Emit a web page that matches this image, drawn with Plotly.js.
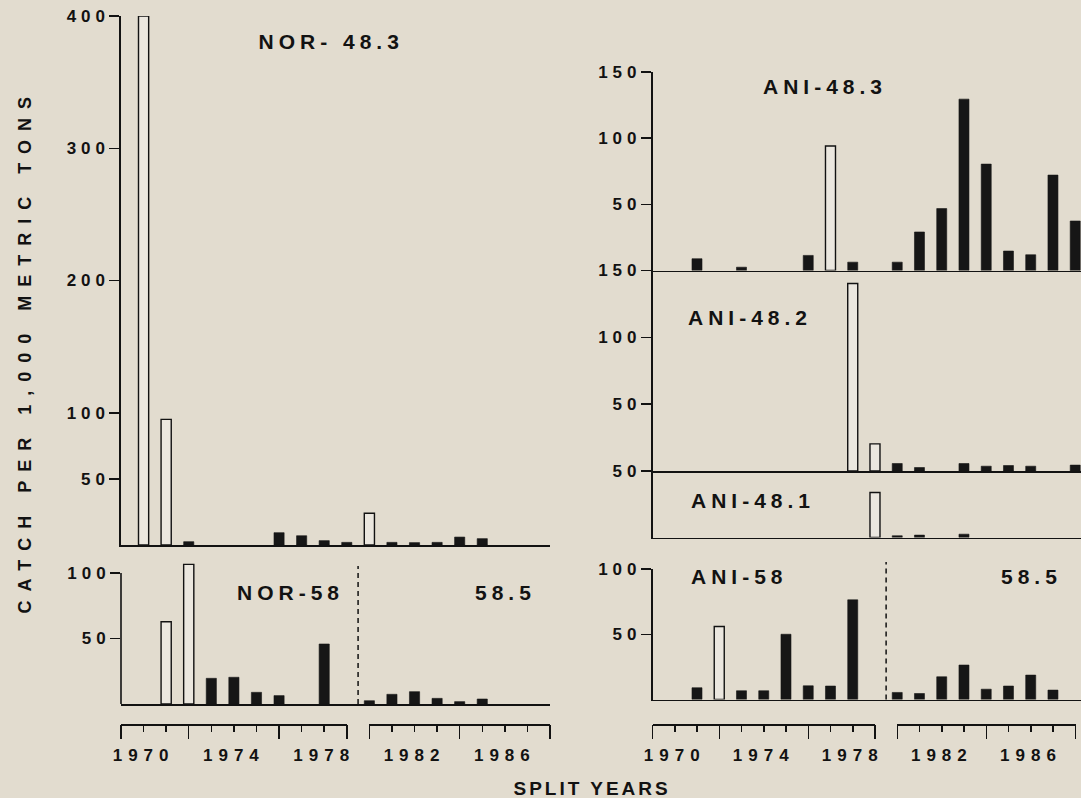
<!DOCTYPE html>
<html><head><meta charset="utf-8">
<script src="https://cdn.plot.ly/plotly-3.0.1.min.js"></script>
<style>
html,body{margin:0;padding:0;background:#e2dccf;}
#chart{width:1081px;height:798px;}
#chart g[class^="y"][class$="tick"] text{letter-spacing:5px;}
#chart g[class^="x"][class$="tick"] text{letter-spacing:6px;}
#chart .annotation-text{letter-spacing:5px;}
#chart g.annotation[data-index="8"] text{letter-spacing:9px;}
#chart g.annotation[data-index="9"] text{letter-spacing:3px;}
</style></head><body><div id="chart"></div>
<script>
// ---------------- data ----------------
const nor483FillYears = [1972, 1976, 1977, 1978, 1979, 1981, 1982, 1983, 1984, 1985];
const nor483FillVals  = [2.5, 9.3, 7, 3.3, 2, 2, 1.8, 2, 6, 4.8];
const nor483OpenYears = [1970, 1971, 1980];
const nor483OpenVals  = [400, 95, 24];

const nor58FillYears = [1973, 1974, 1975, 1976, 1978, 1980, 1981, 1982, 1983, 1984, 1985];
const nor58FillVals  = [19.6, 20.4, 8.9, 6.4, 45.8, 2.5, 7.4, 9.4, 4.3, 1.8, 3.8];
const nor58OpenYears = [1971, 1972];
const nor58OpenVals  = [62.8, 106.6];

const ani483FillYears = [1971, 1973, 1976, 1978, 1980, 1981, 1982, 1983, 1984, 1985, 1986, 1987, 1988];
const ani483FillVals  = [8.9, 2.5, 11.4, 6.3, 6.3, 29.1, 46.8, 129.5, 80.4, 14.7, 11.9, 72.1, 37.4];
const ani483OpenYears = [1977];
const ani483OpenVals  = [94.1];

const ani482FillYears = [1980, 1981, 1983, 1984, 1985, 1986, 1988];
const ani482FillVals  = [5.6, 2.6, 5.6, 3.6, 4.1, 3.6, 4.4];
const ani482OpenYears = [1978, 1979];
const ani482OpenVals  = [140.3, 20.3];

const ani481FillYears = [1980, 1981, 1983];
const ani481FillVals  = [1.3, 1.8, 2.5];
const ani481OpenYears = [1979];
const ani481OpenVals  = [33.8];

const ani58FillYears = [1971, 1973, 1974, 1975, 1976, 1977, 1978, 1980, 1981, 1982, 1983, 1984, 1985, 1986, 1987];
const ani58FillVals  = [9, 6.7, 6.7, 50, 10.5, 10.3, 76.4, 5.4, 4.6, 17.4, 26.4, 7.9, 10.3, 18.7, 7.2];
const ani58OpenYears = [1972];
const ani58OpenVals  = [55.9];

// tick labels
const nor483Ticks = [50, 100, 200, 300, 400];
const nor58Ticks  = [50, 100];
const ani483Ticks = [50, 100, 150];
const ani482Ticks = [50, 100, 150];
const ani481Ticks = [50];
const ani58Ticks  = [50, 100];

const yearsEarly  = [1969, 1970, 1971, 1972, 1973, 1974, 1975, 1976, 1977, 1978, 1979];
const labelsEarly = ['', '1970', '', '', '', '1974', '', '', '', '1978', ''];
const yearsLate   = [1980, 1981, 1982, 1983, 1984, 1985, 1986, 1987, 1988];
const labelsLate  = ['', '', '1982', '', '', '', '1986', '', ''];
const longEarly   = [1969, 1972, 1976, 1979];
const longLate    = [1980, 1984, 1988];

const panelTitles = ['NOR- 48.3', 'NOR-58', '58.5', 'ANI-48.3', 'ANI-48.2', 'ANI-48.1', 'ANI-58', '58.5'];
const yTitle = 'CATCH PER 1,000 METRIC TONS';
const xTitle = 'SPLIT YEARS';

// ---------------- layout helpers ----------------
const W = 1081, H = 798;
const px = v => v / W;
const py = v => 1 - v / H;
const FONT = 'Liberation Sans, Arial, Helvetica, sans-serif';
const INK = '#121212';
const BG = '#e2dccf';

// axisTop: the value where the drawn y-axis line stops (may be below the range top)
const panels = [
  {id: '',  xpx: [121, 550],    xr: [1969, 1988],    ypx: [16, 545],    yr: [0, 400], axisTop: 400, ticks: nor483Ticks, fy: nor483FillYears, fv: nor483FillVals, oy: nor483OpenYears, ov: nor483OpenVals},
  {id: '2', xpx: [121, 550],    xr: [1969, 1988],    ypx: [559.9, 704], yr: [0, 110], axisTop: 100, ticks: nor58Ticks,  fy: nor58FillYears,  fv: nor58FillVals,  oy: nor58OpenYears,  ov: nor58OpenVals},
  {id: '3', xpx: [652.5, 1081], xr: [1969, 1988.26], ypx: [72, 270.5],  yr: [0, 150], axisTop: 150, ticks: ani483Ticks, fy: ani483FillYears, fv: ani483FillVals, oy: ani483OpenYears, ov: ani483OpenVals},
  {id: '4', xpx: [652.5, 1081], xr: [1969, 1988.26], ypx: [270.5, 471], yr: [0, 150], axisTop: 150, ticks: ani482Ticks, fy: ani482FillYears, fv: ani482FillVals, oy: ani482OpenYears, ov: ani482OpenVals},
  {id: '5', xpx: [652.5, 1081], xr: [1969, 1988.26], ypx: [471, 537.5], yr: [0, 50],  axisTop: 50,  ticks: ani481Ticks, fy: ani481FillYears, fv: ani481FillVals, oy: ani481OpenYears, ov: ani481OpenVals},
  {id: '6', xpx: [652.5, 1081], xr: [1969, 1988.26], ypx: [569, 699.5], yr: [0, 100], axisTop: 100, ticks: ani58Ticks,  fy: ani58FillYears,  fv: ani58FillVals,  oy: ani58OpenYears,  ov: ani58OpenVals}
];

const traces = [];
const layout = {
  width: W, height: H, autosize: false,
  margin: {l: 0, r: 0, t: 0, b: 0, pad: 0},
  paper_bgcolor: BG, plot_bgcolor: 'rgba(0,0,0,0)',
  showlegend: false, bargap: 0,
  font: {family: FONT, color: INK},
  annotations: [], shapes: []
};

panels.forEach(p => {
  const xa = 'x' + p.id, ya = 'y' + p.id;
  const fullLine = p.axisTop === p.yr[1];
  layout['xaxis' + p.id] = {
    domain: [px(p.xpx[0]), Math.min(1, px(p.xpx[1]))], range: p.xr, anchor: ya,
    showline: true, linewidth: 1.6, linecolor: INK, ticks: '', showticklabels: false,
    showgrid: false, zeroline: false, fixedrange: true
  };
  layout['yaxis' + p.id] = {
    domain: [py(p.ypx[1]), py(p.ypx[0])], range: p.yr, anchor: xa,
    showline: fullLine, linewidth: 1.6, linecolor: INK,
    ticks: 'outside', ticklen: 10, tickwidth: 1.5, tickcolor: INK,
    tickvals: p.ticks, ticktext: p.ticks.map(String),
    tickfont: {family: FONT, size: 17, color: INK, weight: 'bold'}, ticklabelstandoff: -4,
    showgrid: false, zeroline: false, fixedrange: true
  };
  if (!fullLine) {
    layout.shapes.push({type: 'line', xref: 'paper', yref: ya, x0: px(p.xpx[0]), x1: px(p.xpx[0]),
      y0: 0, y1: p.axisTop, line: {color: INK, width: 1.6}});
  }
  traces.push({type: 'bar', x: p.fy, y: p.fv, xaxis: xa, yaxis: ya, width: 0.45,
    marker: {color: '#161616', line: {color: '#161616', width: 0.6}}, hoverinfo: 'skip'});
  traces.push({type: 'bar', x: p.oy, y: p.ov, xaxis: xa, yaxis: ya, width: 0.45,
    marker: {color: '#ebe7df', line: {color: INK, width: 1.4}}, cliponaxis: false, hoverinfo: 'skip'});
});

// bracket (split year) axes
layout.yaxis7 = {domain: [py(724), py(714)], range: [0, 1], visible: false, fixedrange: true, anchor: 'x7'};
const brackets = [
  {id: '7',  ov: '11', xpx: [121, 346.8],    xr: [1969, 1979], vals: yearsEarly, labels: labelsEarly, longs: longEarly},
  {id: '8',  ov: '12', xpx: [369.4, 550],    xr: [1980, 1988], vals: yearsLate,  labels: labelsLate,  longs: longLate},
  {id: '9',  ov: '13', xpx: [652.5, 875],    xr: [1969, 1979], vals: yearsEarly, labels: labelsEarly, longs: longEarly},
  {id: '10', ov: '14', xpx: [897.3, 1075.5], xr: [1980, 1988], vals: yearsLate,  labels: labelsLate,  longs: longLate}
];
brackets.forEach(b => {
  layout['xaxis' + b.id] = {
    domain: [px(b.xpx[0]), px(b.xpx[1])], range: b.xr, anchor: 'y7', side: 'bottom',
    showline: true, linewidth: 1.6, linecolor: INK,
    ticks: 'outside', ticklen: 6, tickwidth: 1.5, tickcolor: INK,
    tickvals: b.vals, ticktext: b.labels, tickangle: 0,
    tickfont: {family: FONT, size: 17, color: INK, weight: 'bold'}, ticklabelstandoff: 9,
    showgrid: false, zeroline: false, fixedrange: true
  };
  layout['xaxis' + b.ov] = {
    overlaying: 'x' + b.id, range: b.xr, anchor: 'y7', side: 'bottom',
    showline: false, ticks: 'outside', ticklen: 14, tickwidth: 1.5, tickcolor: INK,
    tickvals: b.longs, showticklabels: false,
    showgrid: false, zeroline: false, fixedrange: true
  };
  traces.push({type: 'scatter', mode: 'markers', x: [b.xr[0]], y: [0.5], xaxis: 'x' + b.id, yaxis: 'y7',
    marker: {opacity: 0}, hoverinfo: 'skip'});
  traces.push({type: 'scatter', mode: 'markers', x: [b.xr[0]], y: [0.5], xaxis: 'x' + b.ov, yaxis: 'y7',
    marker: {opacity: 0}, hoverinfo: 'skip'});
});

// dashed split lines
layout.shapes.push({type: 'line', xref: 'x2', yref: 'paper', x0: 1979.5, x1: 1979.5, y0: py(704), y1: py(566),
  line: {color: INK, width: 1.5, dash: '5px,4px'}});
layout.shapes.push({type: 'line', xref: 'x6', yref: 'paper', x0: 1979.5, x1: 1979.5, y0: py(699.5), y1: py(562),
  line: {color: INK, width: 1.5, dash: '5px,4px'}});

// panel titles
const titleFont = {family: FONT, size: 21, color: INK, weight: 'bold'};
const titlePos = [
  ['x', 'y', 1978.3, 381],
  ['x2', 'y2', 1976.5, 85.5],
  ['x2', 'y2', 1986.05, 85.5],
  ['x3', 'y3', 1976.75, 138.9],
  ['x4', 'y4', 1973.4, 115.2],
  ['x5', 'y5', 1973.5, 28],
  ['x6', 'y6', 1972.9, 93.9],
  ['x6', 'y6', 1986.05, 93.9]
];
titlePos.forEach((t, i) => {
  layout.annotations.push({xref: t[0], yref: t[1], x: t[2], y: t[3], text: panelTitles[i],
    showarrow: false, xanchor: 'center', yanchor: 'middle', font: titleFont});
});
layout.annotations.push({xref: 'paper', yref: 'paper', x: px(25), y: py(351), text: yTitle, textangle: -90,
  showarrow: false, xanchor: 'center', yanchor: 'middle', font: {family: FONT, size: 18, color: INK, weight: 'bold'}});
layout.annotations.push({xref: 'paper', yref: 'paper', x: px(592), y: py(788), text: xTitle,
  showarrow: false, xanchor: 'center', yanchor: 'middle', font: {family: FONT, size: 19, color: INK, weight: 'bold'}});

Plotly.newPlot('chart', traces, layout, {displayModeBar: false, staticPlot: true});
</script></body></html>
